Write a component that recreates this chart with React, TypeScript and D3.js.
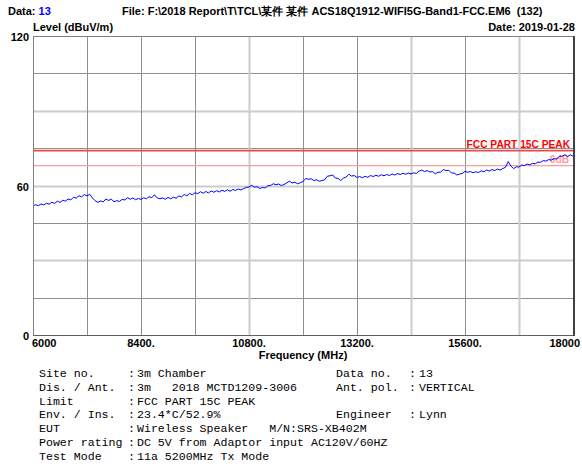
import React from "react";
import * as d3 from "d3";

const W = 582;
const H = 468;

// Sweep: 6000 – 18000 MHz, 60 MHz step
const SWEEP_START = 6000;
const SWEEP_STEP = 60;
const levels: number[] = [
  51.8, 52.3, 51.9, 52.6, 52.2, 52.9, 52.5, 53.3, 52.8, 53.7,
  53.2, 54.1, 53.7, 54.6, 54.2, 55.3, 54.9, 55.9, 55.4, 56.4,
  55.8, 56.5, 55.0, 53.9, 53.2, 53.8, 53.4, 54.6, 54.0, 54.5,
  53.5, 53.9, 53.6, 54.4, 54.2, 55.1, 54.5, 55.0, 54.3, 54.8,
  54.4, 55.1, 54.7, 55.5, 55.1, 56.3, 55.0, 54.7, 55.0, 54.5,
  55.2, 54.7, 55.3, 54.9, 55.8, 55.4, 56.4, 55.9, 56.8, 56.3,
  57.1, 56.7, 57.5, 56.9, 57.6, 57.0, 57.8, 57.3, 57.9, 57.4,
  58.1, 57.6, 58.3, 57.7, 58.4, 58.0, 58.6, 58.2, 58.8, 59.2,
  59.4, 60.1, 59.3, 59.5, 58.8, 59.2, 59.0, 59.9, 60.0, 60.7,
  60.3, 60.6, 60.0, 60.4, 61.1, 61.7, 61.0, 61.3, 60.7, 61.1,
  61.6, 62.8, 62.5, 62.7, 62.0, 62.3, 61.7, 62.0, 62.3, 63.7,
  63.9, 64.2, 63.0, 62.8, 62.0, 63.0, 63.4, 64.5, 63.8, 64.0,
  63.2, 63.6, 63.1, 63.7, 63.3, 64.0, 63.6, 64.1, 63.7, 64.3,
  63.9, 64.4, 64.0, 64.6, 64.2, 64.8, 64.4, 64.9, 64.5, 65.0,
  64.6, 65.1, 64.8, 65.8, 66.2, 65.6, 66.0, 65.4, 65.6, 64.7,
  65.3, 65.4, 66.4, 66.0, 66.1, 65.0, 65.0, 64.2, 64.6, 64.8,
  65.7, 65.3, 65.6, 65.1, 65.5, 65.2, 65.9, 65.5, 66.2, 65.8,
  66.4, 66.0, 66.6, 66.2, 66.8, 67.3, 69.6, 67.8, 66.8, 67.5,
  67.4, 68.2, 68.0, 68.6, 68.3, 68.9, 68.7, 69.4, 69.3, 70.0,
  69.8, 70.4, 70.2, 70.8, 70.6, 71.8, 71.7, 72.4, 71.6, 72.3,
  71.8,
];

const limitValue = 74;
const marginValue = 68;
const limitName = "FCC PART 15C PEAK";
const marginName = "6dB";

const yTickValues = [0, 60, 120];
const xTickValues = [6000, 8400, 10800, 13200, 15600, 18000];
const xTickLabels = ["6000", "8400.", "10800.", "13200.", "15600.", "18000"];

const infoLabels = ["Site no.", "Dis. / Ant.", "Limit", "Env. / Ins.", "EUT", "Power rating", "Test Mode"];
const infoValues = [
  "3m Chamber",
  "3m   2018 MCTD1209-3006",
  "FCC PART 15C PEAK",
  "23.4*C/52.9%",
  "Wireless Speaker   M/N:SRS-XB402M",
  "DC 5V from Adaptor input AC120V/60HZ",
  "11a 5200MHz Tx Mode",
];
const infoRightLabels = ["Data no.", "Ant. pol.", "", "Engineer", "", "", ""];
const infoRightValues = ["13", "VERTICAL", "", "Lynn", "", "", ""];

const headerFile = "File: F:\\2018 Report\\T\\TCL\\某件 某件 ACS18Q1912-WIFI5G-Band1-FCC.EM6  (132)";
const headerDate = "Date: 2019-01-28";
const dataNo = "13";

export default function App() {
  const left = 33, right = 573, top = 36, bottom = 335;
  const x = d3.scaleLinear().domain([6000, 18000]).range([left, right]);
  const y = d3.scaleLinear().domain([0, 120]).range([bottom, top]);

  const pts: [number, number][] = levels.map((v, i) => [SWEEP_START + i * SWEEP_STEP, v]);
  const line = d3.line<[number, number]>().x((d) => x(d[0])).y((d) => y(d[1]));

  const vGrid = d3.range(1, 10).map((i) => 6000 + i * 1200);
  const hGrid = d3.range(1, 8).map((i) => i * 15);
  const lightV = new Set([4, 7, 9]);

  const bold = { fontFamily: "Liberation Sans, Arial, sans-serif", fontWeight: 700, fontSize: 11, whiteSpace: "pre" } as const;
  const mono = { fontFamily: "Liberation Mono, Courier New, monospace", fontSize: 11.6, whiteSpace: "pre" } as const;

  const rowY = (i: number) => 377 + i * 13.8;

  return (
    <svg width={W} height={H} style={{ position: "absolute", left: 0, top: 0, background: "#fff" }}>
      <rect x={0} y={0} width={W} height={H} fill="#fff" />
      {/* header */}
      <text x={8} y={15} style={bold} fill="#000">
        Data: <tspan fill="#0000ff">{dataNo}</tspan>
      </text>
      <text x={122} y={15} style={bold} fill="#000">{headerFile}</text>
      <text x={33} y={31} style={bold} fill="#000">Level (dBuV/m)</text>
      <text x={575} y={31} style={bold} textAnchor="end" fill="#000">{headerDate}</text>

      {/* grid */}
      {hGrid.map((v) => {
        const light = v % 30 === 0;
        return (
          <line key={"h" + v} x1={left} x2={right} y1={Math.round(y(v)) + 0.5} y2={Math.round(y(v)) + 0.5}
            stroke={light ? "#cccccc" : "#909090"} strokeWidth={light ? 2 : 1} />
        );
      })}
      {vGrid.map((f, i) => {
        const light = lightV.has(i + 1);
        return (
          <line key={"v" + f} y1={top} y2={bottom} x1={Math.round(x(f)) + 0.5} x2={Math.round(x(f)) + 0.5}
            stroke={light ? "#cccccc" : "#909090"} strokeWidth={light ? 2 : 1} />
        );
      })}

      {/* limit lines */}
      <line x1={left} x2={right} y1={y(limitValue)} y2={y(limitValue)} stroke="#f04848" strokeWidth={1.6} />
      <line x1={left} x2={right} y1={y(marginValue)} y2={y(marginValue)} stroke="#f4a0a0" strokeWidth={1.3} />
      <text x={570} y={y(limitValue) - 3} textAnchor="end" style={{ ...bold, fontSize: 10.2 }} fill="#ff0000">{limitName}</text>
      <text x={569} y={y(marginValue) - 3} textAnchor="end" style={{ ...bold, fontSize: 10.2 }} fill="#ff9a9a">{marginName}</text>

      {/* trace */}
      <path d={line(pts) || ""} fill="none" stroke="#0000ff" strokeWidth={1} />

      {/* frame */}
      <line x1={left + 0.5} x2={left + 0.5} y1={top} y2={bottom + 1} stroke="#808080" />
      <line x1={left} x2={right} y1={top + 0.5} y2={top + 0.5} stroke="#808080" />
      <line x1={left} x2={right + 1} y1={bottom + 0.5} y2={bottom + 0.5} stroke="#606060" />
      <line x1={right + 1} x2={right + 1} y1={top} y2={bottom + 1} stroke="#404040" strokeWidth={2} />

      {/* axes labels */}
      {yTickValues.map((v) => (
        <text key={"yt" + v} x={29} y={y(v) + 5} textAnchor="end" style={bold} fill="#000">{v}</text>
      ))}
      {xTickValues.map((f, i) => {
        const anchor = i === 0 ? "start" : i === xTickValues.length - 1 ? "end" : "middle";
        const px = i === 0 ? 32 : i === xTickValues.length - 1 ? 580 : x(f);
        return (
          <text key={"xt" + f} x={px} y={347} textAnchor={anchor} style={bold} fill="#000">{xTickLabels[i]}</text>
        );
      })}
      <text x={303} y={359} textAnchor="middle" style={bold} fill="#000">Frequency (MHz)</text>

      {/* info block */}
      {infoLabels.map((lab, i) => (
        <g key={"info" + i}>
          <text x={39} y={rowY(i)} style={mono} fill="#000">{lab}</text>
          <text x={128} y={rowY(i)} style={mono} fill="#000">{":"}</text>
          <text x={137} y={rowY(i)} style={mono} fill="#000">{infoValues[i]}</text>
          {infoRightLabels[i] && (
            <>
              <text x={336} y={rowY(i)} style={mono} fill="#000">{infoRightLabels[i]}</text>
              <text x={409} y={rowY(i)} style={mono} fill="#000">{":"}</text>
              <text x={419} y={rowY(i)} style={mono} fill="#000">{infoRightValues[i]}</text>
            </>
          )}
        </g>
      ))}
    </svg>
  );
}
